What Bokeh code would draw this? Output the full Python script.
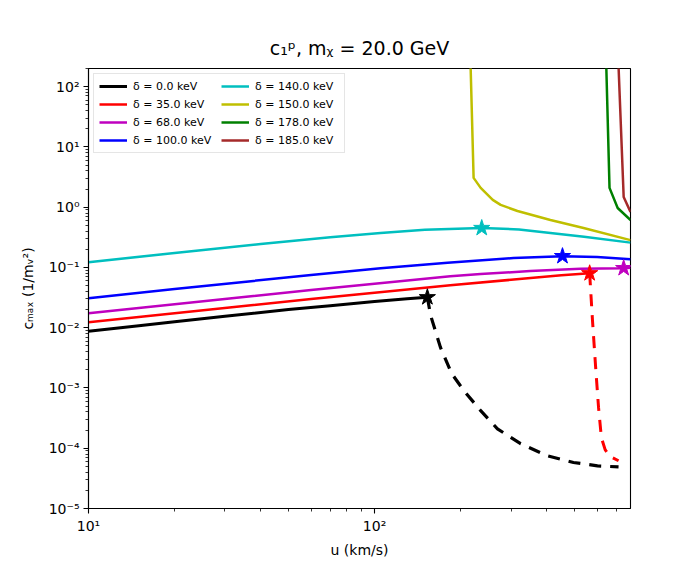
from bokeh.plotting import figure
from bokeh.models import FixedTicker, CustomJSTickFormatter, Legend, LegendItem, Range1d
from bokeh.embed import file_html
from bokeh.resources import INLINE

# ---------------- data ----------------
deltas = [0.0, 35.0, 68.0, 100.0, 140.0, 150.0, 178.0, 185.0]
colors = ["#000000", "#ff0000", "#bf00bf", "#0000ff", "#00bfbf", "#bfbf00", "#008000", "#a52a2a"]

u_d0 = [10, 15, 20, 30, 50, 70, 100, 130, 153]
c_d0 = [0.0087, 0.0108, 0.0126, 0.0155, 0.0200, 0.0232, 0.0272, 0.0301, 0.032]

u_d35 = [10, 20, 37, 60, 100, 184, 300, 450, 565]
c_d35 = [0.0123, 0.0174, 0.0236, 0.0299, 0.038, 0.0507, 0.0624, 0.0741, 0.080]

u_d68 = [10, 20, 37, 60, 100, 184, 235, 350, 525, 743, 785]
c_d68 = [0.0174, 0.0245, 0.0333, 0.0422, 0.0537, 0.0716, 0.0776, 0.087, 0.0955, 0.0973, 0.0989]

u_d100 = [10, 20, 37, 60, 105, 180, 306, 454, 600, 785]
c_d100 = [0.0308, 0.0437, 0.0592, 0.075, 0.0973, 0.120, 0.143, 0.154, 0.149, 0.137]

u_d140 = [10, 20, 40, 70, 105, 150, 237, 320, 412, 540, 785]
c_d140 = [0.122, 0.174, 0.244, 0.316, 0.372, 0.422, 0.451, 0.427, 0.372, 0.324, 0.258]

u_d150 = [214, 222, 235, 259, 276, 316, 412, 538, 785]
c_d150 = [2000.0, 3.06, 2.09, 1.32, 1.09, 0.865, 0.613, 0.451, 0.284]

u_d178 = [638, 663, 708, 785]
c_d178 = [2000.0, 2.09, 0.97, 0.61]

u_d185 = [700, 743, 785]
c_d185 = [2000.0, 1.48, 0.83]

# dashed continuations past the maximum
u_d0_dash = [153, 157, 170, 186, 205, 235, 269, 324, 402, 496, 602, 713]
c_d0_dash = [0.032, 0.0161, 0.00472, 0.00174, 9.1e-4, 4.2e-4, 2.1e-4, 1.19e-4, 7.5e-5, 5.8e-5, 5.1e-5, 4.9e-5]

u_d35_dash = [565, 578, 593, 607, 621, 640, 665, 713]
c_d35_dash = [0.080, 0.0133, 0.00219, 4.7e-4, 1.5e-4, 9.5e-5, 7.3e-5, 6.2e-5]

# star markers
star_u = [153, 565, 743, 454, 237]
star_c = [0.032, 0.080, 0.0973, 0.154, 0.451]
star_colors = ["#000000", "#ff0000", "#bf00bf", "#0000ff", "#00bfbf"]

x_major = [10, 100]
x_minor = [20, 30, 40, 50, 60, 70, 80, 90, 200, 300, 400, 500, 600, 700]
y_major = [1e-5, 1e-4, 1e-3, 1e-2, 1e-1, 1e0, 1e1, 1e2]
y_minor = [m * 10.0 ** e for e in range(-5, 3) for m in range(2, 10)]

title_text = "c\u2081\u1d56, m\u1d6a = 20.0 GeV"
x_label = "u (km/s)"
y_label = "c\u2098\u2090\u2093 (1/m\u1d65\u00b2)"

FONT = "DejaVu Sans"

# ---------------- figure ----------------
p = figure(
    x_axis_type="log", y_axis_type="log",
    x_range=Range1d(10, 785), y_range=Range1d(1e-5, 200),
    frame_width=542, frame_height=440,
    min_border_left=88, min_border_right=62, min_border_top=68, min_border_bottom=54,
    output_backend="svg", toolbar_location=None,
)
p.background_fill_color = "white"
p.border_fill_color = "white"
p.outline_line_color = "black"
p.outline_line_width = 1.1
p.xgrid.visible = False
p.ygrid.visible = False

p.title.text = title_text
p.title.align = "center"
p.title.text_font = FONT
p.title.text_font_size = "19px"
p.title.text_font_style = "normal"
p.title.text_color = "black"
p.title.standoff = 20

fmt_code = """
const e = Math.round(Math.log10(tick));
const m = {"-":"\\u207b","0":"\\u2070","1":"\\u00b9","2":"\\u00b2","3":"\\u00b3","4":"\\u2074","5":"\\u2075","6":"\\u2076","7":"\\u2077","8":"\\u2078","9":"\\u2079"};
return "10" + String(e).split("").map(c => m[c]).join("");
"""

for ax, major, minor, lab in ((p.xaxis[0], x_major, x_minor, x_label), (p.yaxis[0], y_major, y_minor, y_label)):
    ax.ticker = FixedTicker(ticks=major, minor_ticks=minor)
    ax.formatter = CustomJSTickFormatter(code=fmt_code)
    ax.axis_label = lab
    ax.axis_label_text_font = FONT
    ax.axis_label_text_font_size = "14px"
    ax.axis_label_text_font_style = "normal"
    ax.axis_label_text_color = "black"
    ax.major_label_text_font = FONT
    ax.major_label_text_font_size = "14px"
    ax.major_label_text_color = "black"
    ax.axis_line_color = "black"
    ax.axis_line_width = 1.1
    ax.major_tick_line_color = "black"
    ax.minor_tick_line_color = "black"
    ax.major_tick_line_width = 1.1
    ax.minor_tick_line_width = 0.8
    ax.major_tick_out = 5
    ax.major_tick_in = 0
    ax.minor_tick_out = 3
    ax.minor_tick_in = 0
    ax.major_label_standoff = 4

p.yaxis[0].axis_label_standoff = 10
p.xaxis[0].axis_label_standoff = 5

series = [
    (u_d0, c_d0), (u_d35, c_d35), (u_d68, c_d68), (u_d100, c_d100),
    (u_d140, c_d140), (u_d150, c_d150), (u_d178, c_d178), (u_d185, c_d185),
]

renderers = []
for i, ((uu, cc), col) in enumerate(zip(series, colors)):
    lw = 3 if i == 0 else 2.5
    r = p.line(uu, cc, line_color=col, line_width=lw, line_join="round")
    renderers.append(r)

p.line(u_d0_dash, c_d0_dash, line_color="#000000", line_width=3.2, line_dash="12 9")
p.line(u_d35_dash, c_d35_dash, line_color="#ff0000", line_width=3.0, line_dash="12 9")

p.scatter(star_u, star_c, marker="star", size=17, fill_color=star_colors, line_color=star_colors)

items = [LegendItem(label="\u03b4 = %.1f keV" % d, renderers=[r]) for d, r in zip(deltas, renderers)]
legend = Legend(items=items, location="top_left", ncols=2)
legend.margin = 5
legend.padding = 5
legend.spacing = 4
legend.label_height = 14
legend.glyph_height = 14
legend.glyph_width = 28
legend.label_standoff = 6
legend.label_width = 84
legend.label_text_font = FONT
legend.label_text_font_size = "11px"
legend.label_text_color = "black"
legend.border_line_color = "#cccccc"
legend.border_line_width = 1
legend.background_fill_alpha = 0.8
p.add_layout(legend)

open("out.html", "w").write(file_html(p, INLINE))
